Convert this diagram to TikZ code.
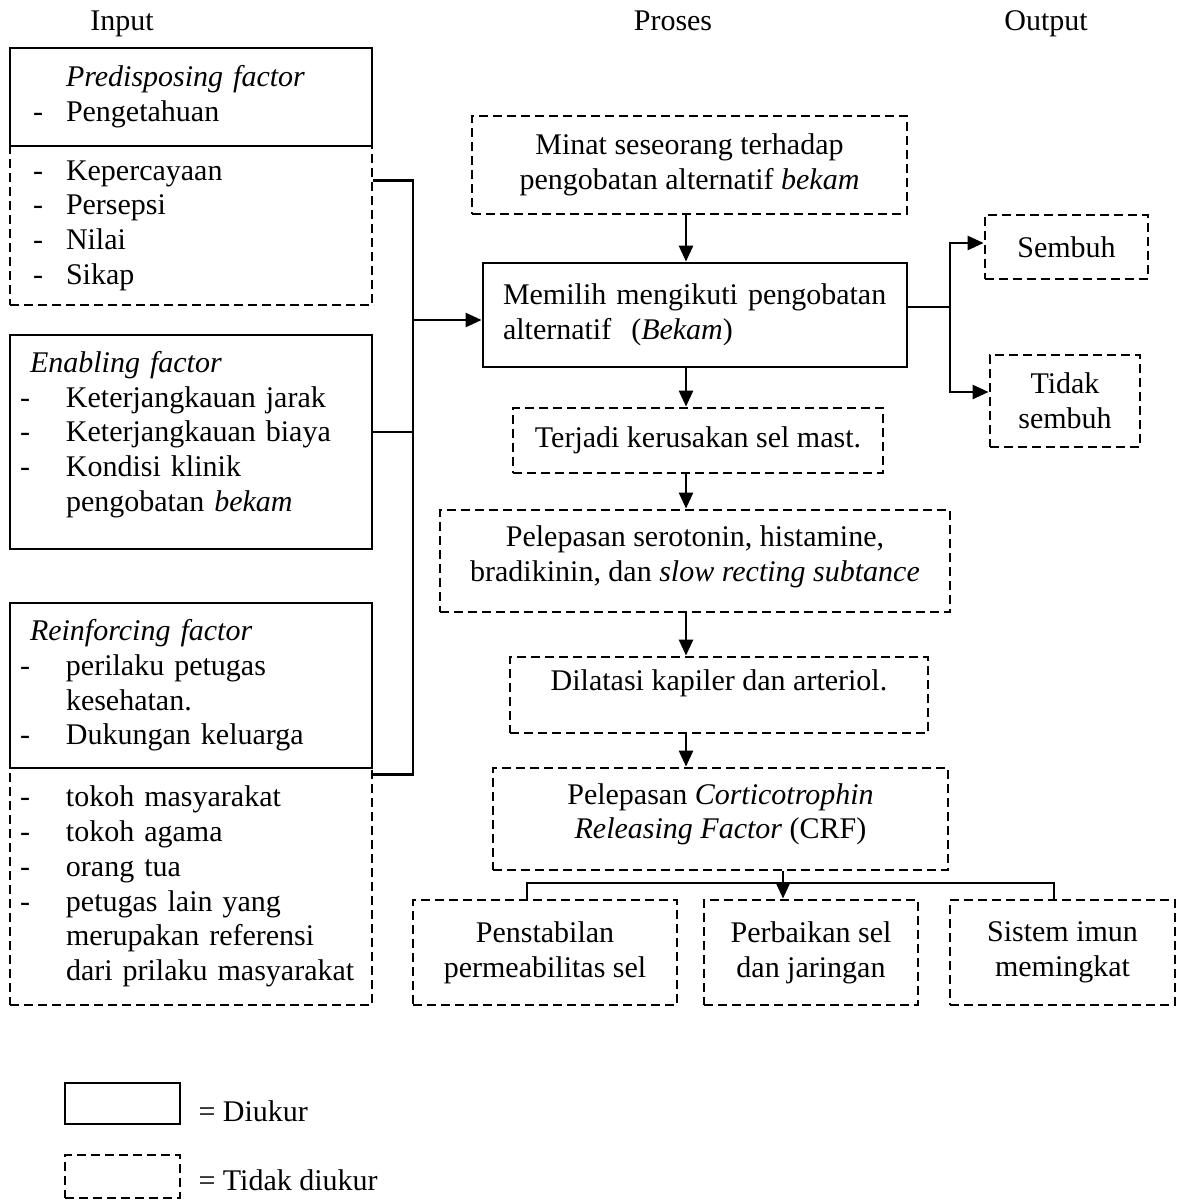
\documentclass[tikz,border=0pt]{standalone}
\usepackage{fontspec}
\setmainfont{Liberation Serif}
\usetikzlibrary{arrows.meta}
\newcommand{\butir}{\makebox[46pt][l]{-}}
\newcommand{\butirP}{\hspace*{13pt}\makebox[33pt][l]{-}}

\begin{document}
\begin{tikzpicture}[x=1pt, y=-1pt, font=\fontsize{30}{34.7}\selectfont,
    ukur/.style={draw, line width=2.8pt},
    takukur/.style={draw, line width=2.8pt, dash pattern=on 9pt off 5pt},
    kotakkiri/.style={minimum width=362pt, text width=342pt, inner xsep=10pt, inner ysep=2pt, align=left},
    judul/.style={text height=21pt, text depth=7pt},
    garis/.style={line width=2.6pt},
    panah/.style={line width=2.6pt, -{Triangle[length=16pt,width=14pt]}}]
    \useasboundingbox (0,0) rectangle (1179,1200);

    \node[judul] (input) at (122,23) {Input};
    \node[judul] (proses) at (673,23) {Proses};
    \node[judul] (output) at (1046,23) {Output};

    \node[takukur, kotakkiri, minimum height=159pt] (predisB) at (191,225.5) {\butirP Kepercayaan\\ \butirP Persepsi\\ \butirP Nilai\\ \butirP Sikap};
    \node[ukur, kotakkiri, minimum height=98pt] (predis) at (191,97) {\hspace*{46pt}\textit{Predisposing factor}\\ \butirP Pengetahuan};
    \node[ukur, kotakkiri, minimum height=214pt, text depth=160pt] (enab) at (191,442) {\hspace*{10pt}\textit{Enabling factor}\\ \butir Keterjangkauan jarak\\ \butir Keterjangkauan biaya\\ \butir Kondisi klinik\\ \hspace*{46pt}pengobatan \textit{bekam}};
    \node[takukur, kotakkiri, minimum height=237pt] (reinfB) at (191,886.5) {\butir tokoh masyarakat\\ \butir tokoh agama\\ \butir orang tua\\ \butir petugas lain yang\\ \hspace*{46pt}merupakan referensi\\ \hspace*{46pt}dari prilaku masyarakat};
    \node[ukur, kotakkiri, minimum height=165pt] (reinf) at (191,685.5) {\hspace*{10pt}\textit{Reinforcing factor}\\ \butir perilaku petugas\\ \hspace*{46pt}kesehatan.\\ \butir Dukungan keluarga};

    \node[takukur, minimum width=435pt, minimum height=98pt, align=center] (minat) at (689.5,165) {Minat seseorang terhadap\\ pengobatan alternatif \textit{bekam}};
    \node[ukur, minimum width=424pt, minimum height=104pt, text width=384pt, inner xsep=20pt, align=left] (memilih) at (695,315) {Memilih mengikuti pengobatan\\ alternatif\ \ (\textit{Bekam})\\[6pt]};
    \node[takukur, minimum width=370pt, minimum height=65pt] (terjadi) at (698,440.5) {Terjadi kerusakan sel mast.};
    \node[takukur, minimum width=510pt, minimum height=102pt, align=center, text depth=15pt] (serotonin) at (695,561) {Pelepasan serotonin, histamine,\\ bradikinin, dan \textit{slow recting subtance}};
    \node[takukur, minimum width=418pt, minimum height=76pt, text depth=30pt] (dilatasi) at (719,695) {Dilatasi kapiler dan arteriol.};
    \node[takukur, minimum width=455pt, minimum height=102pt, align=center, text depth=16pt] (crf) at (720.5,819) {Pelepasan \textit{Corticotrophin}\\ \textit{Releasing Factor} (CRF)};

    \node[takukur, minimum width=264pt, minimum height=105pt, align=center] (penstabilan) at (545,952.5) {Penstabilan\\ permeabilitas sel};
    \node[takukur, minimum width=214pt, minimum height=105pt, align=center] (perbaikan) at (811,952.5) {Perbaikan sel\\ dan jaringan};
    \node[takukur, minimum width=225pt, minimum height=105pt, align=center] (sistem) at (1062.5,952.5) {Sistem imun\\ memingkat};

    \node[takukur, minimum width=163pt, minimum height=64pt] (sembuh) at (1066.5,247) {Sembuh};
    \node[takukur, minimum width=150pt, minimum height=92pt, align=center] (tidak) at (1065,401) {Tidak\\ sembuh};

    \coordinate (kumpul) at (413,320);
    \coordinate (sumbu) at (686,0);
    \coordinate (keluar) at (950,307);
    \coordinate (cabang) at (783,883);

    \draw[garis] ([yshift=-36pt]predisB.north east) -| (kumpul) |- ([yshift=-8pt]reinfB.north east);
    \draw[garis] ([yshift=10pt]enab.east) -- ++(41,0);
    \draw[panah] (kumpul) -- (memilih.west |- kumpul);

    \draw[panah] (minat.south -| sumbu) -- (memilih.north -| sumbu);
    \draw[panah] (memilih.south -| sumbu) -- (terjadi.north -| sumbu);
    \draw[panah] (terjadi.south -| sumbu) -- (serotonin.north -| sumbu);
    \draw[panah] (serotonin.south -| sumbu) -- (dilatasi.north -| sumbu);
    \draw[panah] (dilatasi.south -| sumbu) -- (crf.north -| sumbu);

    \draw[garis] (memilih.east |- keluar) -- (keluar);
    \draw[panah] (keluar) |- ([yshift=4pt]sembuh.west);
    \draw[panah] (keluar) |- ([yshift=9pt]tidak.west);

    \draw[garis] (crf.south -| cabang) -- (cabang);
    \draw[panah] (cabang) -- (perbaikan.north -| cabang);
    \draw[garis] ([xshift=-18pt]penstabilan.north) |- (cabang) -| ([xshift=-8.5pt]sistem.north);

    \node[ukur, minimum width=115pt, minimum height=41pt] (lgukur) at (122.5,1103.5) {};
    \node[anchor=west] (tkukur) at (195,1111) {= Diukur};
    \node[takukur, minimum width=115pt, minimum height=43pt] (lgtakukur) at (122.5,1176.5) {};
    \node[anchor=west] (tktakukur) at (195,1180) {= Tidak diukur};
\end{tikzpicture}
\end{document}
